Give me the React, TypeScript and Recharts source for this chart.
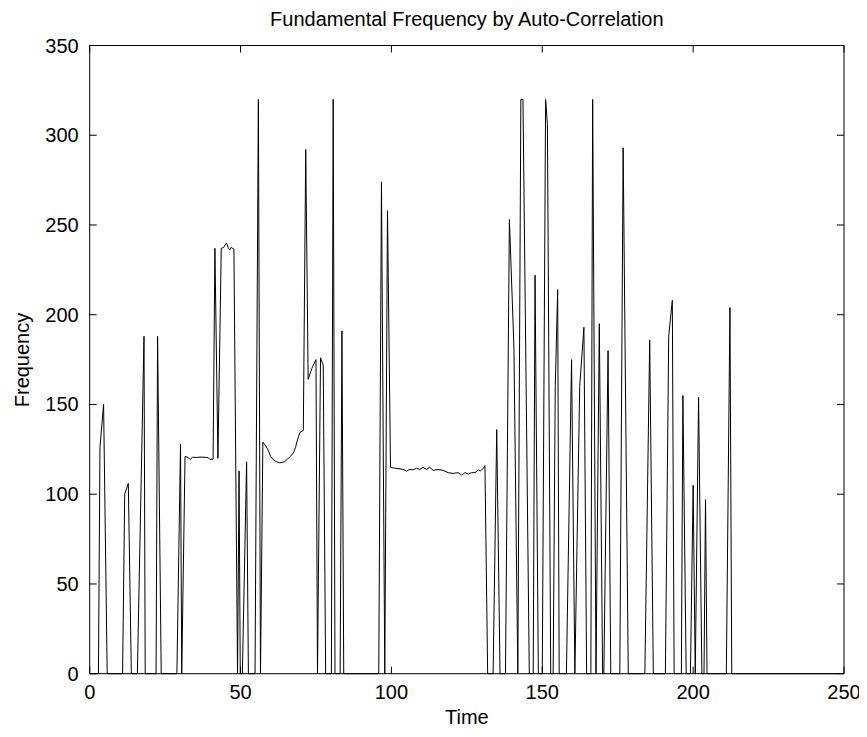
import React from 'react';
import { LineChart, Line, XAxis, YAxis, ReferenceLine } from 'recharts';

// Time values
const times: number[] = [
  0, 2.9, 3.4, 4.6, 5.8, 10.9, 11.6, 12.8, 13.8, 15.8, 18.0, 18.4, 22.0, 22.5, 23.7, 28.9, 30.1, 30.5, 31.6,
  32.6, 33.3, 34.0, 35.5, 37.0, 38.5, 39.3, 39.8, 40.9, 41.5, 42.5, 43.6, 44.4, 45.3, 45.9, 46.4, 46.9, 47.8, 49.0,
  49.5, 49.9, 50.6, 52.0, 52.6, 54.8, 55.9, 56.6, 57.4, 58.3, 59.0, 60.0, 61.0, 62.0, 63.0, 64.5, 65.5, 66.5, 67.5, 68.2, 69.0, 69.7, 70.8,
  71.6, 72.4, 73.6, 75.0, 75.5, 76.5, 77.4, 78.2, 80.1, 80.7, 81.3, 83.0, 83.6, 84.2, 95.8, 96.7, 97.8, 98.7, 99.7,
  101.0, 102.5, 103.9, 105.0, 106.1, 107.2, 108.3, 109.4, 110.5, 111.6, 112.7, 113.8, 115.5, 117.1, 118.8, 120.5, 122.1, 123.3, 124.4, 125.5, 126.6, 127.7, 128.8, 129.4, 130.5, 131.0,
  131.9, 133.7, 134.9, 136.0, 137.8, 139.1, 140.6, 141.9, 142.9, 143.6, 145.7, 147.0, 147.6, 148.7, 150.0, 151.1, 151.7, 152.8, 153.6, 154.3, 155.1, 155.6,
  158.0, 159.7, 160.8, 162.4, 163.8, 164.7, 166.1, 166.7, 167.8, 168.9, 170.0, 170.4, 171.8, 172.7, 175.7, 176.8, 178.5,
  184.0, 185.6, 186.8, 190.8, 191.9, 193.1, 193.7, 196.1, 196.6, 197.7, 199.1, 200.0, 200.7, 201.8, 202.9, 203.6, 204.1, 204.6,
  211.0, 212.2, 212.8, 250,
];

// Frequency values matching the times above
const freqs: number[] = [
  0, 0, 126, 150, 0, 0, 100, 106, 0, 0, 188, 0, 0, 188, 0, 0, 128, 0, 121,
  120.5, 119.3, 120.6, 120.5, 120.7, 120.5, 120.4, 119.4, 119.5, 237, 120, 237, 237.5, 240, 237.5, 236, 237.5, 236.5, 0,
  113, 0, 0, 118, 0, 0, 320, 0, 129, 127, 125, 121, 119, 118, 117.5, 118, 119.5, 121, 123, 126, 131, 134.5, 135.5,
  292, 164, 170, 175, 0, 176, 172, 0, 0, 320, 0, 0, 191, 0, 0, 274, 0, 258, 115,
  114.5, 114.2, 113.8, 113, 113.8, 113.6, 114.5, 113.8, 115, 113.8, 115, 113.3, 113.8, 113.3, 112, 111.6, 112, 110.7, 112, 111.3, 112, 112, 113.6, 112.8, 114.5, 116,
  0, 0, 136, 0, 0, 253, 182, 0, 320, 320, 0, 0, 222, 0, 0, 320, 306, 0, 0, 160, 214, 0,
  0, 175, 0, 160, 193, 0, 0, 320, 0, 195, 0, 0, 180, 0, 0, 293, 0,
  0, 186, 0, 0, 188, 208, 0, 0, 155, 0, 0, 105, 0, 154, 0, 0, 97, 0,
  0, 204, 0, 0,
];

const xTicks = [0, 50, 100, 150, 200, 250];
const yTicks = [0, 50, 100, 150, 200, 250, 300, 350];
const chartTitle = 'Fundamental Frequency by Auto-Correlation';
const xLabel = 'Time';
const yLabel = 'Frequency';

const data = times.map((t, i) => ({ t, f: freqs[i] }));

const W = 859;
const H = 721;
const MARGIN = { top: 37.5, right: 23, bottom: 15, left: 0 };
const Y_AXIS_W = 81.7;
const X_AXIS_H = 40.3;
const PLOT_TOP = MARGIN.top;
const PLOT_RIGHT = W - MARGIN.right;
const PLOT_LEFT = MARGIN.left + Y_AXIS_W;
const PLOT_W = PLOT_RIGHT - PLOT_LEFT;
const TICK_LEN = 7;
const FONT = '"Liberation Sans", Arial, Helvetica, sans-serif';
const FS = 20;

const XTick = (props: any) => {
  const { x, y, payload } = props;
  return (
    <g>
      <line x1={x} y1={y} x2={x} y2={y - TICK_LEN} stroke="#000" strokeWidth={1} />
      <line x1={x} y1={PLOT_TOP} x2={x} y2={PLOT_TOP + TICK_LEN} stroke="#000" strokeWidth={1} />
      <text x={x} y={y + 25} textAnchor="middle" fill="#000" fontSize={FS} fontFamily={FONT}>
        {payload.value}
      </text>
    </g>
  );
};

const YTick = (props: any) => {
  const { x, y, payload } = props;
  return (
    <g>
      <line x1={x} y1={y} x2={x + TICK_LEN} y2={y} stroke="#000" strokeWidth={1} />
      <line x1={PLOT_RIGHT} y1={y} x2={PLOT_RIGHT - TICK_LEN} y2={y} stroke="#000" strokeWidth={1} />
      <text x={x - 11} y={y + 7} textAnchor="end" fill="#000" fontSize={FS} fontFamily={FONT}>
        {payload.value}
      </text>
    </g>
  );
};

export default function App() {
  return (
    <div style={{ position: 'relative', width: W, height: H, fontFamily: FONT, background: '#fff' }}>
      <LineChart width={W} height={H} data={data} margin={MARGIN}>
        <XAxis
          xAxisId="bottom"
          dataKey="t"
          type="number"
          domain={[0, 250]}
          ticks={xTicks}
          orientation="bottom"
          height={X_AXIS_H}
          stroke="#000"
          tickLine={false}
          tickSize={0}
          tickMargin={0}
          tick={<XTick />}
          interval={0}
          allowDataOverflow
        />
        <YAxis
          yAxisId="left"
          type="number"
          domain={[0, 350]}
          ticks={yTicks}
          orientation="left"
          width={Y_AXIS_W}
          stroke="#000"
          tickLine={false}
          tickSize={0}
          tickMargin={0}
          tick={<YTick />}
          interval={0}
        />
        <ReferenceLine xAxisId="bottom" yAxisId="left" y={350} stroke="#000" strokeWidth={1} />
        <ReferenceLine xAxisId="bottom" yAxisId="left" x={250} stroke="#000" strokeWidth={1} />
        <Line
          xAxisId="bottom"
          yAxisId="left"
          type="linear"
          dataKey="f"
          stroke="#000"
          strokeWidth={1}
          dot={false}
          activeDot={false}
          isAnimationActive={false}
        />
      </LineChart>
      <div
        style={{
          position: 'absolute', left: PLOT_LEFT, top: 0, width: PLOT_W, textAlign: 'center',
          fontSize: FS, lineHeight: '23px', color: '#000', whiteSpace: 'nowrap',
        }}
      >
        {chartTitle}
      </div>
      <div
        style={{
          position: 'absolute', left: PLOT_LEFT, top: 697.5, width: PLOT_W, textAlign: 'center',
          fontSize: FS, lineHeight: '23px', color: '#000',
        }}
      >
        {xLabel}
      </div>
      <div
        style={{
          position: 'absolute', left: 14, top: 352, fontSize: FS, lineHeight: '23px', color: '#000',
          whiteSpace: 'nowrap', transform: 'translate(-50%, -50%) rotate(-90deg)',
        }}
      >
        {yLabel}
      </div>
    </div>
  );
}
